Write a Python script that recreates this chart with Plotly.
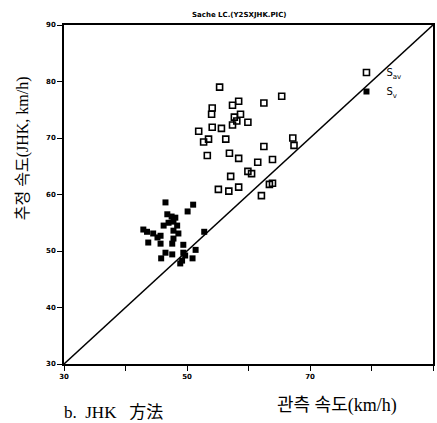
import plotly.graph_objects as go

# Observed speed (x) vs estimated speed (y), km/h
sav_x = [55.3, 65.4, 62.5, 58.4, 57.4, 54.1, 54.0, 58.7, 57.7, 58.1, 59.9, 57.4,
         54.1, 55.6, 51.9, 53.5, 52.7, 56.3, 67.2, 67.4, 62.5, 53.3, 56.9, 58.4,
         63.9, 61.5, 59.9, 60.5, 57.1, 63.4, 63.9, 55.1, 56.8, 58.4, 62.1]
sav_y = [79.0, 77.4, 76.2, 76.5, 75.8, 75.3, 74.2, 74.2, 73.7, 73.0, 72.8, 72.3,
         71.9, 71.7, 71.2, 69.8, 69.3, 69.8, 70.0, 68.7, 68.5, 66.9, 67.3, 66.4,
         66.2, 65.7, 64.1, 63.7, 63.2, 61.8, 62.0, 60.9, 60.6, 61.3, 59.8]

sv_x = [46.5, 51.0, 50.1, 46.8, 47.5, 48.1, 47.0, 47.8, 46.2, 48.4, 42.9, 43.5,
        52.8, 47.8, 48.6, 44.5, 45.2, 45.7, 43.7, 45.7, 47.8, 47.6, 49.4, 51.4,
        46.5, 47.6, 49.4, 49.7, 49.2, 48.9, 50.9, 45.8]
sv_y = [58.6, 58.2, 57.0, 56.5, 56.1, 55.9, 55.0, 55.2, 54.5, 54.5, 53.8, 53.4,
        53.4, 53.6, 53.1, 53.1, 52.4, 52.7, 51.5, 51.3, 52.2, 51.3, 51.1, 50.2,
        49.7, 49.4, 49.7, 49.2, 48.3, 47.8, 48.7, 48.7]

diag_x = [30, 90]
diag_y = [30, 90]

x_ticks = [30, 40, 50, 60, 70, 80, 90]
x_tick_text = ["30", "", "50", "", "70", "", "90"]
y_ticks = [30, 40, 50, 60, 70, 80, 90]
y_tick_text = ["30", "40", "50", "60", "70", "80", "90"]

fig = go.Figure()
fig.add_trace(go.Scatter(x=diag_x, y=diag_y, mode="lines",
                         line=dict(color="black", width=1.5), showlegend=False))
fig.add_trace(go.Scatter(x=sav_x, y=sav_y, mode="markers", name="S<sub>av</sub>",
                         marker=dict(symbol="square-open", size=6, color="black",
                                     line=dict(width=1.6, color="black"))))
fig.add_trace(go.Scatter(x=sv_x, y=sv_y, mode="markers", name="S<sub>v</sub>",
                         marker=dict(symbol="square", size=6, color="black")))

tickfont = dict(family="DejaVu Sans", size=7, color="black", weight="bold")
serif = "Liberation Serif, Noto Sans CJK KR"
fig.update_layout(
    width=437, height=423,
    margin=dict(l=64, r=2, t=25, b=59),
    paper_bgcolor="white", plot_bgcolor="white",
    showlegend=True,
    legend=dict(x=(348 - 64) / 371, y=(364 - 58) / 339, xanchor="left", yanchor="top",
                bgcolor="rgba(0,0,0,0)", font=dict(family="DejaVu Sans", size=10, color="black"),
                itemwidth=30, tracegroupgap=0),
    xaxis=dict(range=[30, 90], tickvals=x_ticks, ticktext=x_tick_text,
               showgrid=False, zeroline=False, showline=True, linecolor="black",
               linewidth=1.5, mirror=True, ticks="outside", ticklen=5,
               tickcolor="black", tickfont=tickfont),
    yaxis=dict(range=[30, 90], tickvals=y_ticks, ticktext=y_tick_text,
               showgrid=False, zeroline=False, showline=True, linecolor="black",
               linewidth=1.5, mirror=True, ticks="outside", ticklen=5,
               tickcolor="black", tickfont=tickfont),
    annotations=[
        dict(text="Sache LC.(Y2SXJHK.PIC)", xref="paper", yref="paper",
             x=(240 - 64) / 371, y=1 + 10 / 339, xanchor="center", yanchor="middle",
             showarrow=False,
             font=dict(family="DejaVu Sans", size=7, color="black", weight="bold")),
        dict(text="추정 속도(JHK, km/h)", xref="paper", yref="paper",
             x=-(64 - 23) / 371, y=(364 - 148) / 339, xanchor="center", yanchor="middle",
             textangle=-90, showarrow=False,
             font=dict(family=serif, size=16, color="black")),
        dict(text="관측 속도(km/h)", xref="paper", yref="paper",
             x=(338 - 64) / 371, y=-(405 - 364) / 339, xanchor="center", yanchor="middle",
             showarrow=False,
             font=dict(family=serif, size=18, color="black")),
        dict(text="b.  JHK   方法", xref="paper", yref="paper",
             x=(114 - 64) / 371, y=-(412 - 364) / 339, xanchor="center", yanchor="middle",
             showarrow=False,
             font=dict(family=serif, size=17, color="black")),
    ],
)
fig.write_html("out.html")
